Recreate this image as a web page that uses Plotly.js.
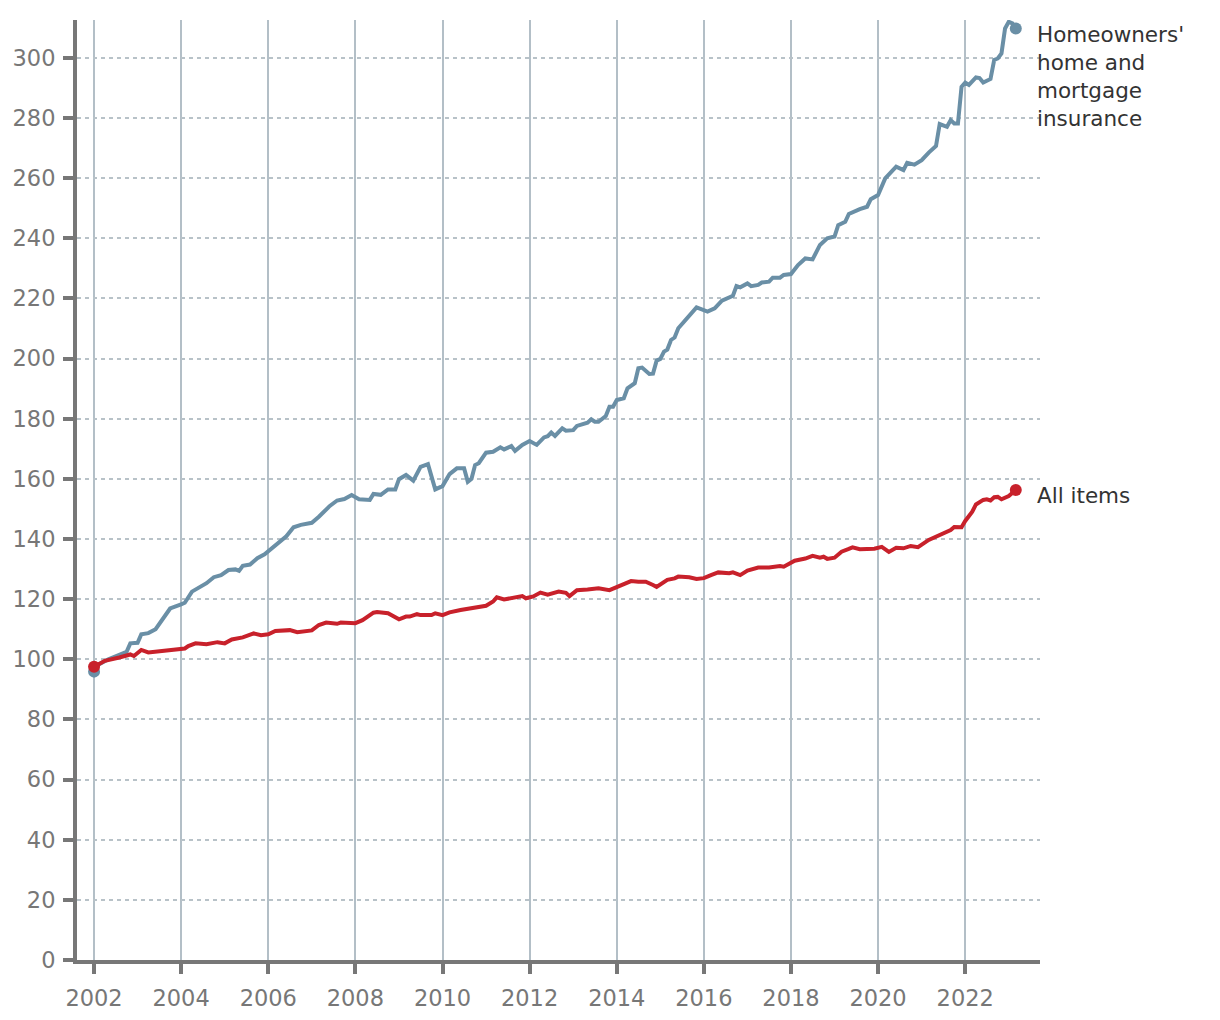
<!DOCTYPE html>
<html>
<head>
<meta charset="utf-8">
<script src="https://cdn.plot.ly/plotly-3.0.1.min.js"></script>
<style>html,body{margin:0;padding:0;background:#fff;}#chart{width:1220px;height:1020px;}</style>
</head>
<body>
<div id="chart"></div>
<script>
// Homeowners' home and mortgage insurance index
const insDates = ["2002-01","2002-02","2002-05","2002-08","2002-10","2002-11","2003-01","2003-02","2003-04","2003-06","2003-09","2003-10",
"2004-01","2004-02","2004-04","2004-07","2004-08","2004-10","2004-12","2005-02","2005-04","2005-05","2005-06","2005-08","2005-10","2005-12",
"2006-03","2006-05","2006-06","2006-08","2006-10","2007-01","2007-03","2007-06","2007-08","2007-10","2007-12",
"2008-02","2008-05","2008-06","2008-08","2008-10","2008-12","2009-01","2009-03","2009-05","2009-07","2009-09","2009-11",
"2010-01","2010-03","2010-05","2010-07","2010-08","2010-09","2010-10","2010-11","2011-01","2011-03","2011-05","2011-06","2011-08","2011-09","2011-11",
"2012-01","2012-03","2012-05","2012-06","2012-07","2012-08","2012-10","2012-11","2013-01","2013-02","2013-05","2013-06","2013-07","2013-08","2013-10","2013-11","2013-12",
"2014-01","2014-03","2014-04","2014-06","2014-07","2014-08","2014-10","2014-11","2014-12","2015-01","2015-02","2015-03","2015-04","2015-05","2015-06","2015-09","2015-10","2015-11",
"2016-02","2016-04","2016-06","2016-09","2016-10","2016-11","2017-01","2017-02","2017-04","2017-05","2017-07","2017-08","2017-10","2017-11",
"2018-01","2018-03","2018-05","2018-07","2018-09","2018-11","2019-01","2019-02","2019-04","2019-05","2019-08","2019-10","2019-11",
"2020-01","2020-03","2020-05","2020-06","2020-08","2020-09","2020-11","2021-01","2021-03","2021-05","2021-06","2021-08","2021-09","2021-10","2021-11","2021-12",
"2022-01","2022-02","2022-04","2022-05","2022-06","2022-08","2022-09","2022-10","2022-11","2022-12","2023-01","2023-02","2023-03"];
const insValues = [95.9,98.1,100.0,101.4,102.5,105.3,105.5,108.3,108.7,110.0,115.3,116.9,
118.3,118.8,122.5,124.7,125.3,127.3,128.0,129.7,129.9,129.4,131.1,131.5,133.6,134.9,
138.0,140.2,140.9,143.9,144.7,145.4,147.4,151.0,152.8,153.3,154.6,
153.2,153.0,155.0,154.7,156.5,156.5,159.9,161.3,159.4,164.0,164.9,156.5,
157.6,161.6,163.5,163.5,159.0,160.0,164.6,165.2,168.7,169.0,170.5,169.8,170.9,169.3,171.3,
172.6,171.3,173.8,174.2,175.4,174.3,176.8,176.0,176.2,177.6,178.7,179.8,179.0,179.0,180.9,184.0,184.0,
186.2,186.8,190.1,191.8,196.8,197.0,194.9,195.0,199.3,199.9,202.3,203.0,206.2,207.0,210.1,214.5,215.5,217.0,
215.6,216.7,219.3,220.9,224.1,223.7,225.0,224.1,224.5,225.3,225.6,226.9,226.9,227.8,
228.1,231.1,233.3,233.0,237.8,240.0,240.6,244.4,245.5,248.1,249.7,250.5,253.0,
254.4,259.9,262.2,263.8,262.7,265.1,264.5,266.0,268.5,270.7,278.0,277.1,279.3,278.2,278.2,290.4,
291.8,291.0,293.5,293.3,291.8,293.0,299.3,299.8,301.5,309.8,312.0,311.5,309.8];

// All items CPI index
const allDates = ["2002-01","2002-04","2002-08","2002-11","2002-12","2003-02","2003-04","2003-07","2003-10",
"2004-02","2004-03","2004-05","2004-08","2004-11","2005-01","2005-03","2005-06","2005-09","2005-11",
"2006-01","2006-03","2006-05","2006-07","2006-09","2007-01","2007-03","2007-05","2007-08","2007-09",
"2008-01","2008-03","2008-06","2008-07","2008-10","2009-01","2009-03","2009-04","2009-06","2009-07","2009-10","2009-11",
"2010-01","2010-03","2010-06","2010-07","2010-10","2011-01","2011-03","2011-04","2011-06","2011-08","2011-11","2011-12",
"2012-02","2012-04","2012-06","2012-09","2012-11","2012-12","2013-02","2013-05","2013-08","2013-11",
"2014-03","2014-05","2014-07","2014-09","2014-11","2014-12","2015-03","2015-05","2015-06","2015-09","2015-11",
"2016-01","2016-03","2016-05","2016-08","2016-09","2016-11","2017-01","2017-04","2017-07","2017-10","2017-11",
"2018-02","2018-05","2018-07","2018-09","2018-10","2018-11","2019-01","2019-03","2019-05","2019-06","2019-08","2019-10","2019-12",
"2020-02","2020-04","2020-06","2020-08","2020-10","2020-12","2021-03","2021-06","2021-08","2021-09","2021-10","2021-12",
"2022-01","2022-03","2022-04","2022-06","2022-07","2022-08","2022-09","2022-10","2022-11","2023-01","2023-03"];
const allValues = [97.5,99.5,100.6,101.6,101.1,103.1,102.3,102.7,103.1,
103.6,104.4,105.3,105.0,105.7,105.3,106.6,107.3,108.6,108.0,
108.3,109.4,109.7,109.7,109.0,109.6,111.4,112.2,111.8,112.2,
112.0,113.0,115.5,115.7,115.3,113.3,114.2,114.2,115.0,114.7,114.7,115.3,
114.7,115.6,116.4,116.6,117.5,117.8,119.2,120.6,119.9,120.4,121.0,120.3,
120.9,122.2,121.5,122.5,122.1,121.0,123.0,123.2,123.6,123.0,
125.0,126.0,125.8,125.8,124.7,124.1,126.4,126.9,127.5,127.3,126.7,
127.0,128.0,128.9,128.6,128.9,128.0,129.5,130.5,130.5,131.0,130.8,
132.8,133.5,134.4,133.8,134.1,133.4,133.8,135.8,136.7,137.2,136.6,136.7,136.8,
137.4,135.7,137.1,136.9,137.7,137.3,139.7,141.5,142.7,143.0,144.0,143.9,
146.0,149.1,151.5,153.0,153.2,152.8,153.9,154.0,153.2,154.3,156.3];

const seriesLabels = ["Homeowners'<br>home and<br>mortgage<br>insurance", "All items"];
const yTicks = [0,20,40,60,80,100,120,140,160,180,200,220,240,260,280,300];

const blue = "#6a8fa6", red = "#c8212b";
const FONT = "DejaVu Sans, sans-serif";

function ends(arr){ return [arr[0], arr[arr.length-1]]; }

const traces = [
  {x: insDates, y: insValues, type: "scatter", mode: "lines", line: {color: blue, width: 4}},
  {x: ends(insDates), y: ends(insValues), type: "scatter", mode: "markers", marker: {color: blue, size: 12}},
  {x: allDates, y: allValues, type: "scatter", mode: "lines", line: {color: red, width: 4}},
  {x: ends(allDates), y: ends(allValues), type: "scatter", mode: "markers", marker: {color: red, size: 12}}
];

const layout = {
  width: 1220, height: 1020,
  margin: {l: 77, r: 180, t: 20, b: 60},
  paper_bgcolor: "#fff", plot_bgcolor: "#fff",
  showlegend: false,
  font: {family: FONT, size: 20, color: "#777"},
  xaxis: {
    type: "date",
    range: ["2001-08-11", "2023-09-20"],
    tick0: "2002-01-01", dtick: "M24", tickformat: "%Y",
    showgrid: true, gridcolor: "#b3bfc7", gridwidth: 2,
    showline: true, linecolor: "#777", linewidth: 4,
    ticks: "outside", ticklen: 10, tickwidth: 4, tickcolor: "#777",
    ticklabelstandoff: 5,
    tickfont: {family: FONT, size: 22.5, color: "#777"},
    zeroline: false, fixedrange: true
  },
  yaxis: {
    range: [0, 312.6],
    tickvals: yTicks,
    showgrid: true, gridcolor: "#b8c2c8", gridwidth: 2, griddash: "4px,4px",
    showline: true, linecolor: "#777", linewidth: 4,
    ticks: "outside", ticklen: 10, tickwidth: 4, tickcolor: "#777",
    ticklabelstandoff: 3,
    tickfont: {family: FONT, size: 22.5, color: "#777"},
    zeroline: false, fixedrange: true
  },
  annotations: [
    {xref: "paper", yref: "paper", x: 1, y: 1, xanchor: "left", yanchor: "top", xshift: -4, yshift: -1,
     text: seriesLabels[0], showarrow: false, align: "left", borderpad: 0,
     font: {family: FONT, size: 21.5, color: "#333"}},
    {xref: "paper", yref: "y", x: 1, y: 154.6, xanchor: "left", yanchor: "middle", xshift: -4,
     text: seriesLabels[1], showarrow: false, align: "left", borderpad: 0,
     font: {family: FONT, size: 21.5, color: "#333"}}
  ]
};

Plotly.newPlot("chart", traces, layout, {displayModeBar: false, staticPlot: true});
</script>
</body>
</html>
